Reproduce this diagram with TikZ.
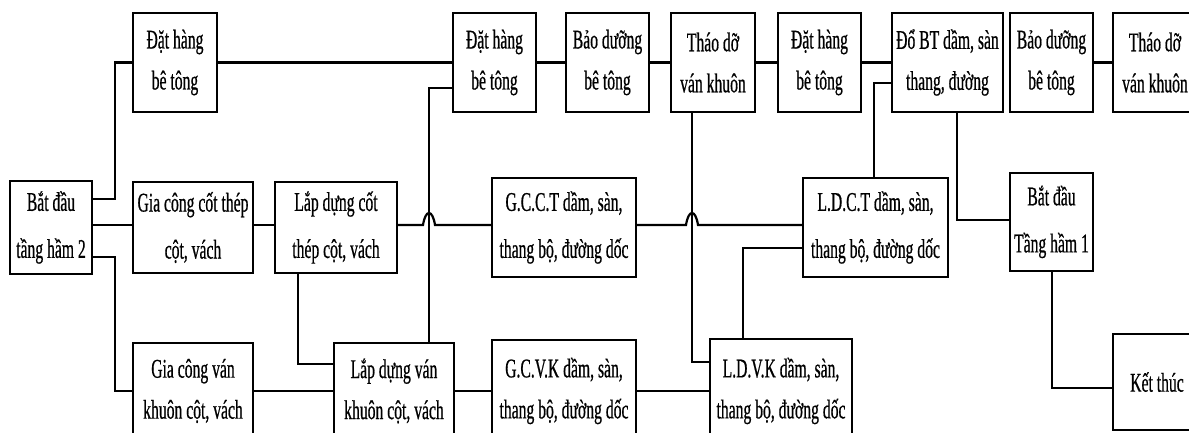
\documentclass[tikz,border=0pt]{standalone}
\usepackage{fontspec}
\newfontfamily\condserif[FakeStretch=0.58,FakeBold=0.6]{Liberation Serif}
\begin{document}
\begin{tikzpicture}[x=1pt,y=-1pt,
  stepbox/.style={draw=black, line width=2.2pt, fill=white, inner sep=0pt,
    align=center, text=black, font=\condserif\fontsize{27}{41}\selectfont},
  midbox/.style={stepbox, font=\condserif\fontsize{27}{47}\selectfont},
  link/.style={draw=black, line width=2.2pt}]
\useasboundingbox (0,0) rectangle (1189,432);
\clip (0,0) rectangle (1189,432);

% start of basement 2
\node[midbox, minimum width=82pt, minimum height=93pt] (start) at (51,227.5) {Bắt đầu\\tầng hầm 2};

% top row
\node[stepbox, minimum width=84pt, minimum height=99pt] (dh1) at (175,62.5) {Đặt hàng\\bê tông};
\node[stepbox, minimum width=83pt, minimum height=99pt] (dh2) at (494.5,62.5) {Đặt hàng\\bê tông};
\node[stepbox, minimum width=83pt, minimum height=99pt] (bd1) at (607.5,62.5) {Bảo dưỡng\\bê tông};
\node[stepbox, minimum width=84pt, minimum height=99pt] (td1) at (713,62.5) {Tháo dỡ\\ván khuôn};
\node[stepbox, minimum width=83pt, minimum height=99pt] (dh3) at (819.5,62.5) {Đặt hàng\\bê tông};
\node[stepbox, minimum width=111pt, minimum height=99pt] (dobt) at (947.5,62.5) {Đổ BT dầm, sàn\\thang, đường};
\node[stepbox, minimum width=83pt, minimum height=99pt] (bd2) at (1051.5,62.5) {Bảo dưỡng\\bê tông};
\node[stepbox, minimum width=84pt, minimum height=99pt] (td2) at (1155,62.5) {Tháo dỡ\\ván khuôn};

% middle row
\node[midbox, minimum width=120pt, minimum height=91pt] (gcct) at (193,227.5) {Gia công cốt thép\\cột, vách};
\node[midbox, minimum width=122pt, minimum height=91pt] (ldct) at (336,227.5) {Lắp dựng cốt\\thép cột, vách};
\node[midbox, minimum width=144pt, minimum height=99pt] (GCCT) at (564,227.5) {G.C.C.T dầm, sàn,\\thang bộ, đường dốc};
\node[midbox, minimum width=145pt, minimum height=99pt] (LDCT) at (875.5,227.5) {L.D.C.T dầm, sàn,\\thang bộ, đường dốc};
\node[midbox, minimum width=83pt, minimum height=98pt] (bdh1) at (1051.5,222) {Bắt đầu\\Tầng hầm 1};

% bottom row
\node[stepbox, minimum width=120pt, minimum height=96pt] (gcvk) at (193,391) {Gia công ván\\khuôn cột, vách};
\node[stepbox, minimum width=120pt, minimum height=96pt] (ldvk) at (394,391) {Lắp dựng ván\\khuôn cột, vách};
\node[stepbox, minimum width=144pt, minimum height=102pt] (GCVK) at (564,391) {G.C.V.K dầm, sàn,\\thang bộ, đường dốc};
\node[stepbox, minimum width=142pt, minimum height=104pt] (LDVK) at (781,391) {L.D.V.K dầm, sàn,\\thang bộ, đường dốc};
\node[stepbox, minimum width=88pt, minimum height=96pt] (kt) at (1157,382) {Kết thúc};

% connectors from the start box
\draw[link] ([yshift=28.5pt]start.east) -- ++(22,0) |- (dh1.west);
\draw[link] ([yshift=2.5pt]start.east) -- ([yshift=2.5pt]gcct.west);
\draw[link] ([yshift=-29.5pt]start.east) -- ++(22,0) |- (gcvk.west);

% top row chain
\draw[link] (dh1.east) -- (dh2.west);
\draw[link] (dh2.east) -- (bd1.west);
\draw[link] (bd1.east) -- (td1.west);
\draw[link] (td1.east) -- (dh3.west);
\draw[link] (dh3.east) -- (dobt.west);
\draw[link] (bd2.east) -- (td2.west);

% middle row chain, hopping over the vertical links
\draw[link] (gcct.east |- 0,225) -- (ldct.west |- 0,225);
\draw[link] (ldct.east |- 0,225) -- (423,225)
  .. controls (425.5,209) and (432.5,209) .. (435,225) -- (GCCT.west |- 0,225);
\draw[link] (GCCT.east |- 0,225) -- (686,225)
  .. controls (688.5,209) and (695.5,209) .. (698,225) -- (LDCT.west |- 0,225);

% bottom row chain
\draw[link] (gcvk.east) -- (ldvk.west);
\draw[link] (ldvk.east) -- (GCVK.west);
\draw[link] (GCVK.east) -- (LDVK.west);

% vertical links
\draw[link] ([xshift=-38pt]ldct.south) |- ([yshift=27pt]ldvk.west);
\draw[link] ([xshift=35pt]ldvk.north) |- ([yshift=-25.5pt]dh2.west);
\draw[link] ([xshift=-21pt]td1.south) |- ([yshift=29pt]LDVK.west);
\draw[link] ([xshift=-38pt]LDVK.north) |- ([yshift=-20.5pt]LDCT.west);
\draw[link] ([xshift=-1.5pt]LDCT.north) |- ([yshift=-20.5pt]dobt.west);
\draw[link] ([xshift=9.5pt]dobt.south) |- ([yshift=2pt]bdh1.west);
\draw[link] ([xshift=0.5pt]bdh1.south) |- ([yshift=-6pt]kt.west);
\end{tikzpicture}
\end{document}
